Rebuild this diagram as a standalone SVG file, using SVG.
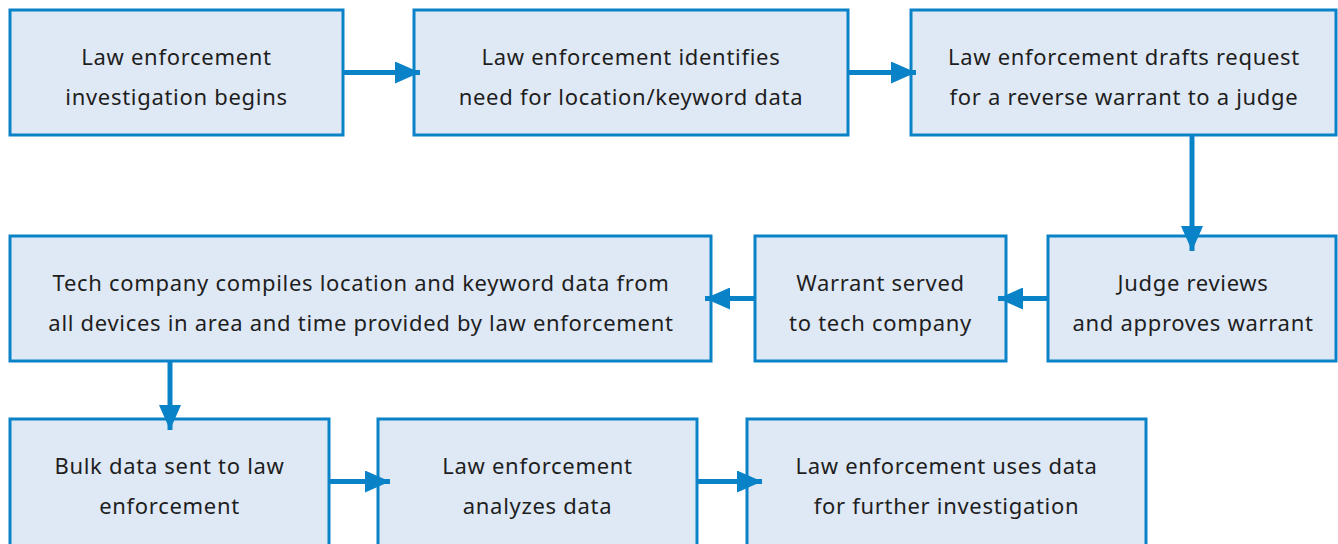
<svg xmlns="http://www.w3.org/2000/svg" width="1338" height="544" viewBox="0 0 1338 544">
<defs>
<marker id="ah" markerUnits="userSpaceOnUse" markerWidth="26" markerHeight="22" refX="25" refY="11" orient="auto">
<path d="M0,0 L25,11 L0,22 Z" fill="#0a82c8"/>
</marker>
</defs>
<style>
.box{fill:#dfe9f5;stroke:#0a82c8;stroke-width:3}
.t{font-family:"Noto Sans",sans-serif;font-size:22px;letter-spacing:0.7px;fill:#1e1e1e;text-anchor:middle}
.c{stroke:#0a82c8;stroke-width:5;fill:none;marker-end:url(#ah)}
</style>
<rect width="1338" height="544" fill="#ffffff"/>
<g id="n1"><rect class="box" x="10" y="10" width="333" height="125"/><text class="t" x="176.5" y="65">Law enforcement</text><text class="t" x="176.5" y="105">investigation begins</text></g>
<g id="n2"><rect class="box" x="414" y="10" width="434" height="125"/><text class="t" x="631" y="65">Law enforcement identifies</text><text class="t" x="631" y="105">need for location/keyword data</text></g>
<g id="n3"><rect class="box" x="911" y="10" width="425" height="125"/><text class="t" x="1124" y="65">Law enforcement drafts request</text><text class="t" x="1124" y="105">for a reverse warrant to a judge</text></g>
<g id="n4"><rect class="box" x="10" y="236" width="701" height="125"/><text class="t" x="361" y="291">Tech company compiles location and keyword data from</text><text class="t" x="361" y="331">all devices in area and time provided by law enforcement</text></g>
<g id="n5"><rect class="box" x="755" y="236" width="251" height="125"/><text class="t" x="880.5" y="291">Warrant served</text><text class="t" x="880.5" y="331">to tech company</text></g>
<g id="n6"><rect class="box" x="1048" y="236" width="288" height="125"/><text class="t" x="1193" y="291">Judge reviews</text><text class="t" x="1193" y="331">and approves warrant</text></g>
<g id="n7"><rect class="box" x="10" y="419" width="319" height="130"/><text class="t" x="169.5" y="474">Bulk data sent to law</text><text class="t" x="169.5" y="514">enforcement</text></g>
<g id="n8"><rect class="box" x="378" y="419" width="319" height="130"/><text class="t" x="537.5" y="474">Law enforcement</text><text class="t" x="537.5" y="514">analyzes data</text></g>
<g id="n9"><rect class="box" x="747" y="419" width="399" height="130"/><text class="t" x="946.5" y="474">Law enforcement uses data</text><text class="t" x="946.5" y="514">for further investigation</text></g>
<g id="connectors">
<path class="c" d="M343,72.5 H420"/>
<path class="c" d="M848,72.5 H916"/>
<path class="c" d="M1192,135 V251"/>
<path class="c" d="M1048,298.5 H998"/>
<path class="c" d="M755,298.5 H705"/>
<path class="c" d="M170,361 V430"/>
<path class="c" d="M329,481.5 H390"/>
<path class="c" d="M697,481.5 H762"/>
</g>
</svg>
